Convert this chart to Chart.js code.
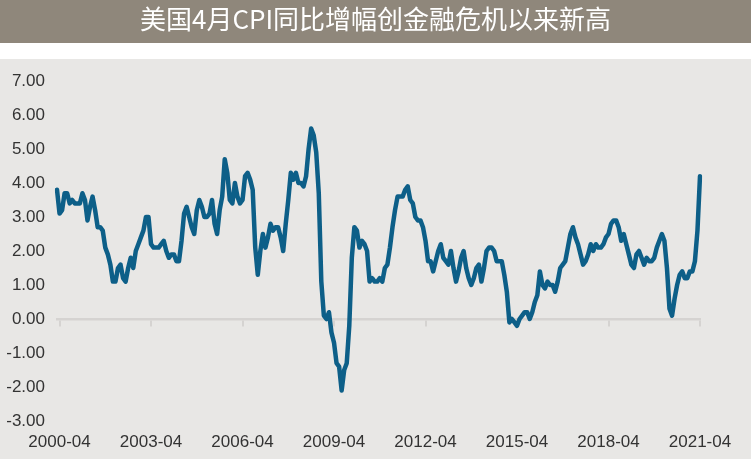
<!DOCTYPE html>
<html>
<head>
<meta charset="utf-8">
<script src="https://cdn.jsdelivr.net/npm/chart.js@4/dist/chart.umd.min.js"></script>
<style>
  html, body { margin: 0; padding: 0; background: #e8e7e5; }
  #wrap { width: 751px; height: 459px; }
</style>
</head>
<body>
<div id="wrap"><canvas id="c" width="751" height="459"></canvas></div>
<script>
// ---- Data (US CPI YoY %, monthly) ----
const chartTitle = '美国4月CPI同比增幅创金融危机以来新高';
const firstMonth = '2000-03';
const lastMonth = '2021-04';
const tickLabels = ['2000-04','2003-04','2006-04','2009-04','2012-04','2015-04','2018-04','2021-04'];
const cpi2000 = [3.8, 3.1, 3.2, 3.7, 3.7, 3.4, 3.5, 3.4, 3.4, 3.4];
const cpi2001 = [3.7, 3.5, 2.9, 3.3, 3.6, 3.2, 2.7, 2.7, 2.6, 2.1, 1.9, 1.6];
const cpi2002 = [1.1, 1.1, 1.5, 1.6, 1.2, 1.1, 1.5, 1.8, 1.5, 2.0, 2.2, 2.4];
const cpi2003 = [2.6, 3.0, 3.0, 2.2, 2.1, 2.1, 2.1, 2.2, 2.3, 2.0, 1.8, 1.9];
const cpi2004 = [1.9, 1.7, 1.7, 2.3, 3.1, 3.3, 3.0, 2.7, 2.5, 3.2, 3.5, 3.3];
const cpi2005 = [3.0, 3.0, 3.1, 3.5, 2.8, 2.5, 3.2, 3.6, 4.7, 4.3, 3.5, 3.4];
const cpi2006 = [4.0, 3.6, 3.4, 3.5, 4.2, 4.3, 4.1, 3.8, 2.1, 1.3, 2.0, 2.5];
const cpi2007 = [2.1, 2.4, 2.8, 2.6, 2.7, 2.7, 2.4, 2.0, 2.8, 3.5, 4.3, 4.1];
const cpi2008 = [4.3, 4.0, 4.0, 3.9, 4.2, 5.0, 5.6, 5.4, 4.9, 3.7, 1.1, 0.1];
const cpi2009 = [0.0, 0.2, -0.4, -0.7, -1.3, -1.4, -2.1, -1.5, -1.3, -0.2, 1.8, 2.7];
const cpi2010 = [2.6, 2.1, 2.3, 2.2, 2.0, 1.1, 1.2, 1.1, 1.1, 1.2, 1.1, 1.5];
const cpi2011 = [1.6, 2.1, 2.7, 3.2, 3.6, 3.6, 3.6, 3.8, 3.9, 3.5, 3.4, 3.0];
const cpi2012 = [2.9, 2.9, 2.7, 2.3, 1.7, 1.7, 1.4, 1.7, 2.0, 2.2, 1.8, 1.7];
const cpi2013 = [1.6, 2.0, 1.5, 1.1, 1.4, 1.8, 2.0, 1.5, 1.2, 1.0, 1.2, 1.5];
const cpi2014 = [1.6, 1.1, 1.5, 2.0, 2.1, 2.1, 2.0, 1.7, 1.7, 1.7, 1.3, 0.8];
const cpi2015 = [-0.1, 0.0, -0.1, -0.2, 0.0, 0.1, 0.2, 0.2, 0.0, 0.2, 0.5, 0.7];
const cpi2016 = [1.4, 1.0, 0.9, 1.1, 1.0, 1.0, 0.8, 1.1, 1.5, 1.6, 1.7, 2.1];
const cpi2017 = [2.5, 2.7, 2.4, 2.2, 1.9, 1.6, 1.7, 1.9, 2.2, 2.0, 2.2, 2.1];
const cpi2018 = [2.1, 2.2, 2.4, 2.5, 2.8, 2.9, 2.9, 2.7, 2.3, 2.5, 2.2, 1.9];
const cpi2019 = [1.6, 1.5, 1.9, 2.0, 1.8, 1.6, 1.8, 1.7, 1.7, 1.8, 2.1, 2.3];
const cpi2020 = [2.5, 2.3, 1.5, 0.3, 0.1, 0.6, 1.0, 1.3, 1.4, 1.2, 1.2, 1.4];
const cpi2021 = [1.4, 1.7, 2.6, 4.2];

const values = [].concat(cpi2000, cpi2001, cpi2002, cpi2003, cpi2004, cpi2005, cpi2006,
  cpi2007, cpi2008, cpi2009, cpi2010, cpi2011, cpi2012, cpi2013, cpi2014, cpi2015,
  cpi2016, cpi2017, cpi2018, cpi2019, cpi2020, cpi2021);

// month category labels
const categories = [];
(function () {
  let [y, m] = firstMonth.split('-').map(Number);
  const [ly, lm] = lastMonth.split('-').map(Number);
  while (y < ly || (y === ly && m <= lm)) {
    categories.push(y + '-' + String(m).padStart(2, '0'));
    m++; if (m > 12) { m = 1; y++; }
  }
})();

const bgPlugin = {
  id: 'bg',
  beforeDraw(chart) {
    const ctx = chart.ctx, w = chart.width, h = chart.height;
    ctx.save();
    ctx.fillStyle = '#e8e7e5';
    ctx.fillRect(0, 0, w, h);
    ctx.fillStyle = '#ffffff';
    ctx.fillRect(0, 43, w, 16);
    ctx.fillStyle = '#8f877b';
    ctx.fillRect(0, 0, w, 43);
    ctx.restore();
  }
};

function pickTicks(scale) {
  scale.ticks = tickLabels.map(l => ({ value: categories.indexOf(l) })).filter(t => t.value >= 0);
}

new Chart(document.getElementById('c'), {
  type: 'line',
  data: {
    labels: categories,
    datasets: [{
      data: values,
      borderColor: '#0d5f88',
      borderWidth: 4.5,
      pointRadius: 0,
      tension: 0,
      borderJoinStyle: 'round',
      borderCapStyle: 'round',
      fill: false
    }]
  },
  options: {
    responsive: false,
    animation: false,
    events: [],
    layout: { padding: 0 },
    plugins: {
      legend: { display: false },
      tooltip: { enabled: false },
      title: {
        display: true,
        text: chartTitle,
        color: '#ffffff',
        font: { family: '"Noto Sans CJK SC", sans-serif', size: 26, weight: 'normal', lineHeight: 1.2 },
        padding: { top: 4, bottom: 45.8 }
      }
    },
    scales: {
      x: {
        type: 'category',
        position: 'bottom',
        offset: false,
        grid: { display: false, drawTicks: false },
        border: { display: false },
        afterBuildTicks: pickTicks,
        afterFit(scale) { scale.height = 38; },
        ticks: {
          autoSkip: false,
          maxRotation: 0,
          minRotation: 0,
          padding: 11,
          color: '#333333',
          font: { family: '"Liberation Sans", Arial, sans-serif', size: 17 },
          callback(v) { return this.getLabelForValue(v); }
        }
      },
      x2: {
        type: 'category',
        position: { y: 0 },
        offset: false,
        afterBuildTicks: pickTicks,
        grid: { display: true, drawOnChartArea: false, drawTicks: true, tickLength: 6, color: '#d5d3d1', lineWidth: 2 },
        border: { display: true, color: '#d5d3d1', width: 2.5 },
        ticks: { display: false, autoSkip: false, maxRotation: 0 }
      },
      y: {
        min: -3,
        max: 7,
        grid: { display: false, drawTicks: false },
        border: { display: false },
        afterFit(scale) { scale.width = 57; },
        ticks: {
          stepSize: 1,
          padding: 12,
          color: '#333333',
          font: { family: '"Liberation Sans", Arial, sans-serif', size: 17 },
          callback(v) { return Number(v).toFixed(2); }
        }
      },
      yRight: {
        position: 'right',
        min: -3,
        max: 7,
        grid: { display: false, drawTicks: false },
        border: { display: false },
        ticks: { display: false },
        afterFit(scale) { scale.width = 51; }
      }
    }
  },
  plugins: [bgPlugin]
});
</script>
</body>
</html>
